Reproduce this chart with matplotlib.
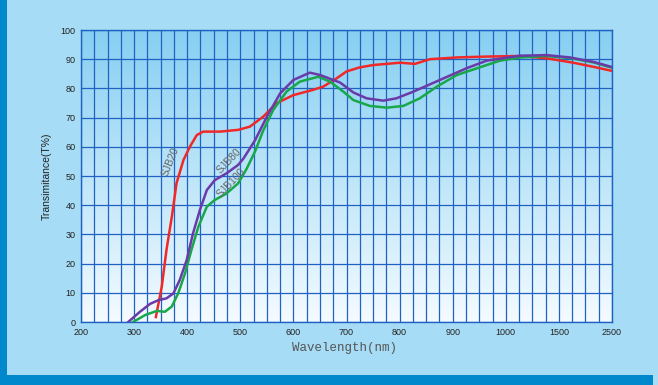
import numpy as np
import matplotlib
matplotlib.use('Agg')
import matplotlib.pyplot as plt
from matplotlib.patches import Rectangle

# 波长刻度 (非线性排布)
wl_ticks = [200, 300, 400, 500, 600, 700, 800, 900, 1000, 1500, 2500]
tick_pos = list(range(len(wl_ticks)))

# SJB20 (red)
sjb20_wl = [341, 352, 361, 371, 380, 393, 405, 418, 430, 462, 496, 518, 543, 568, 600,
            637, 656, 681, 700, 725, 750, 801, 829, 857, 908, 964, 1134, 1385, 1771, 2148, 2500]
sjb20_t = [1.7, 12, 24.7, 36, 47.6, 55.5, 60, 64, 65.2, 65.2, 65.8, 66.9, 70.3, 74.9, 77.7,
           79.5, 80.6, 83.4, 85.8, 87.2, 88, 88.8, 88.4, 90, 90.6, 90.9, 91.1, 90.3, 88.8, 87.4, 86]

# SJB80 (purple)
sjb80_wl = [289, 311, 330, 346, 361, 374, 386, 399, 411, 424, 437, 452, 474, 496, 506,
            528, 550, 575, 600, 631, 650, 688, 713, 738, 769, 794, 826, 876, 926, 964,
            1134, 1385, 1709, 2148, 2500]
sjb80_t = [0, 3.5, 6.2, 7.5, 8.1, 9.8, 14.4, 21.2, 30.4, 38.4, 45.2, 48.6, 50.9, 53.8, 56,
           62.3, 70.3, 78.3, 82.9, 85.4, 84.6, 82, 78.6, 76.6, 75.8, 76.6, 78.9, 82.9, 86.9, 89.5,
           91.2, 91.4, 90.6, 89.1, 87.3]

# SJB100 (green)
sjb100_wl = [298, 321, 343, 358, 371, 383, 396, 408, 421, 437, 452, 474, 496, 512, 528,
             543, 562, 587, 612, 647, 669, 694, 713, 744, 776, 807, 838, 870, 908, 964,
             989, 1134, 1385, 1709, 2148, 2500]
sjb100_t = [0, 2.4, 3.8, 3.5, 5.3, 9.8, 16.7, 24.7, 32.6, 39.5, 41.8, 44, 47.5, 52.5, 58.5,
            65.5, 72.6, 78.9, 82.3, 84, 82.3, 78.9, 76, 74, 73.4, 74, 76.6, 80.6, 84.6, 88,
            89.5, 90.6, 91.1, 90.4, 88.9, 87.1]


def fwd(x):
    return np.interp(x, wl_ticks, tick_pos)


def inv(p):
    return np.interp(p, tick_pos, wl_ticks)


W, H = 658, 385
fig = plt.figure(figsize=(W / 100, H / 100), dpi=100)
fig.patch.set_facecolor('#a6dcf5')

# 边框色块
fig.patches.append(Rectangle((0, 0), 7 / W, 1, transform=fig.transFigure,
                             facecolor='#0088cc', edgecolor='none'))
fig.patches.append(Rectangle((0, 0), 653 / W, 10 / H, transform=fig.transFigure,
                             facecolor='#0088cc', edgecolor='none'))

ax = fig.add_axes([81 / W, (H - 322) / H, (612 - 81) / W, (322 - 30) / H])
ax.set_xscale('function', functions=(fwd, inv))
ax.set_xlim(200, 2500)
ax.set_ylim(0, 100)

# 渐变背景
grad = np.linspace(0, 1, 256).reshape(-1, 1)
cmap = matplotlib.colors.LinearSegmentedColormap.from_list('bg', ['#f4fbff', '#87cff2'])
ax.imshow(grad, aspect='auto', cmap=cmap, extent=[0, 1, 0, 1], origin='lower',
          transform=ax.transAxes, zorder=0)

# 网格
minor = list(np.arange(200, 1000, 25)) + list(np.arange(1000, 1500, 125)) + list(np.arange(1500, 2501, 250))
ax.set_xticks(wl_ticks)
ax.set_xticklabels([str(w) for w in wl_ticks])
ax.set_xticks(minor, minor=True)
ax.set_yticks(range(0, 101, 10))
ax.grid(True, which='both', axis='x', color='#1f62c4', lw=0.9, zorder=1)
ax.grid(True, which='major', axis='y', color='#1f62c4', lw=0.9, zorder=1)
ax.tick_params(which='both', length=0, pad=4, labelsize=6.5, labelcolor='#222222')
for lbl in ax.get_xticklabels() + ax.get_yticklabels():
    lbl.set_fontfamily('Liberation Sans')
for s in ax.spines.values():
    s.set_color('#1f62c4')
    s.set_linewidth(1.0)

ax.plot(sjb20_wl, sjb20_t, color='#f02828', lw=1.8, zorder=3, solid_joinstyle='round')
ax.plot(sjb100_wl, sjb100_t, color='#18a848', lw=1.8, zorder=3, solid_joinstyle='round')
ax.plot(sjb80_wl, sjb80_t, color='#6a3aa8', lw=1.8, zorder=4, solid_joinstyle='round')

# 曲线标注
lab_kw = dict(color='#666666', fontsize=7.5, family='Liberation Sans', ha='center', va='center', zorder=5)
ax.text(369, 55, 'SJB20', rotation=68, **lab_kw)
ax.text(479, 55.2, 'SJB80', rotation=46, **lab_kw)
ax.text(482, 47.6, 'SJB100', rotation=46, **lab_kw)

ax.set_ylabel('Transimitance(T%)', fontsize=7.5, family='Liberation Sans', color='#222222', labelpad=6)
fig.text(345 / W, 1 - 348 / H, 'Wavelength(nm)', fontsize=9, family='Liberation Mono',
         color='#555555', ha='center', va='center')

fig.savefig('out.png', dpi=100, facecolor=fig.get_facecolor())
